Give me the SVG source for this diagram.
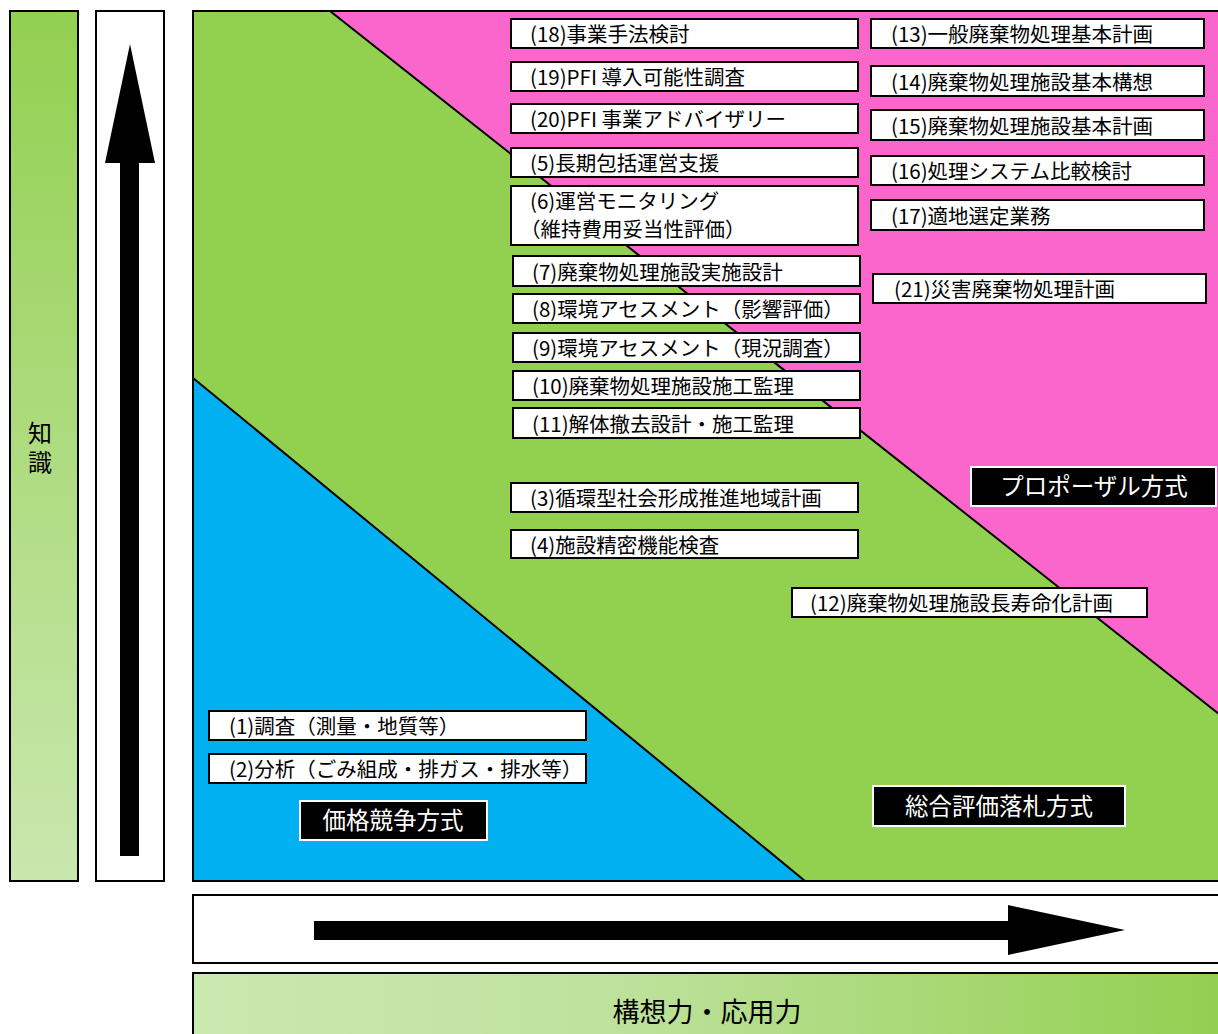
<svg xmlns="http://www.w3.org/2000/svg" width="1218" height="1034" viewBox="0 0 1218 1034">
<defs>
<linearGradient id="gv" x1="0" y1="0" x2="0" y2="1">
<stop offset="0" stop-color="#92D050"/>
<stop offset="1" stop-color="#C9E7AE"/>
</linearGradient>
<linearGradient id="gh" x1="0" y1="0" x2="1" y2="0">
<stop offset="0" stop-color="#CBE8B0"/>
<stop offset="0.4" stop-color="#BFE29E"/>
<stop offset="1" stop-color="#92D050"/>
</linearGradient>
<style>
.t{font-family:"Noto Sans CJK JP","Noto Sans CJK SC",sans-serif;font-size:20.5px;fill:#000}
.vert{font-size:24px;writing-mode:vertical-rl;letter-spacing:5px}
.axis{font-size:27px;text-anchor:middle}
.b{fill:#fff;stroke:#000;stroke-width:2}
.lb{fill:#000;stroke:#fff;stroke-width:2}
.lt{font-family:"Noto Sans CJK JP","Noto Sans CJK SC",sans-serif;font-size:23.5px;fill:#fff;text-anchor:middle}
</style>
</defs>
<rect width="1218" height="1034" fill="#fff"/>
<g id="axis-knowledge">
<rect x="10" y="11" width="68" height="870" fill="url(#gv)" stroke="#000" stroke-width="2"/>
<text class="t vert" x="40" y="421">知識</text>
</g>
<g id="axis-up">
<rect x="96" y="11" width="68" height="870" fill="#fff" stroke="#000" stroke-width="2"/>
<polygon points="130,44 155,163 139,163 139,856 120,856 120,163 105,163" fill="#000"/>
</g>
<g id="panel">
<rect x="193" y="11" width="1030" height="870" fill="#92D050" stroke="#000" stroke-width="2"/>
<polygon points="330,11 1219,11 1219,714" fill="#FA66CC" stroke="#000" stroke-width="2"/>
<polygon points="193,378 805,881 193,881" fill="#00B0F0" stroke="#000" stroke-width="2"/>
<rect x="193" y="11" width="1030" height="870" fill="none" stroke="#000" stroke-width="2"/>
</g>
<g id="axis-right">
<rect x="193" y="895" width="1030" height="68" fill="#fff" stroke="#000" stroke-width="2"/>
<polygon points="314,921 1008,921 1008,905 1125,930 1008,955 1008,940 314,940" fill="#000"/>
</g>
<g id="axis-concept">
<rect x="193" y="973" width="1030" height="70" fill="url(#gh)" stroke="#000" stroke-width="2"/>
<text class="t axis" x="707" y="1022">構想力・応用力</text>
</g>
<g id="n18"><rect class="b" x="511" y="19" width="347" height="29"/><text class="t" x="530" y="42">(18)事業手法検討</text></g>
<g id="n19"><rect class="b" x="511" y="62" width="347" height="29"/><text class="t" x="530" y="85">(19)PFI 導入可能性調査</text></g>
<g id="n20"><rect class="b" x="511" y="104" width="347" height="29"/><text class="t" x="530" y="127">(20)PFI 事業アドバイザリー</text></g>
<g id="n5"><rect class="b" x="511" y="148" width="347" height="29"/><text class="t" x="530" y="171">(5)長期包括運営支援</text></g>
<g id="n6"><rect class="b" x="511" y="186" width="347" height="59"/><text class="t" x="530" y="209">(6)運営モニタリング</text><text class="t" x="520" y="237">（維持費用妥当性評価）</text></g>
<g id="n7"><rect class="b" x="513" y="256" width="347" height="30"/><text class="t" x="532" y="280">(7)廃棄物処理施設実施設計</text></g>
<g id="n8"><rect class="b" x="513" y="294" width="347" height="29"/><text class="t" x="532" y="317">(8)環境アセスメント（影響評価）</text></g>
<g id="n9"><rect class="b" x="513" y="333" width="347" height="29"/><text class="t" x="532" y="356">(9)環境アセスメント（現況調査）</text></g>
<g id="n10"><rect class="b" x="513" y="371" width="347" height="29"/><text class="t" x="532" y="394">(10)廃棄物処理施設施工監理</text></g>
<g id="n11"><rect class="b" x="513" y="408" width="347" height="30"/><text class="t" x="532" y="432">(11)解体撤去設計・施工監理</text></g>
<g id="n3"><rect class="b" x="511" y="483" width="347" height="29"/><text class="t" x="530" y="506">(3)循環型社会形成推進地域計画</text></g>
<g id="n4"><rect class="b" x="511" y="530" width="347" height="28"/><text class="t" x="530" y="553">(4)施設精密機能検査</text></g>
<g id="n12"><rect class="b" x="792" y="588" width="355" height="29"/><text class="t" x="810" y="611">(12)廃棄物処理施設長寿命化計画</text></g>
<g id="n13"><rect class="b" x="871" y="19" width="333" height="29"/><text class="t" x="891" y="42">(13)一般廃棄物処理基本計画</text></g>
<g id="n14"><rect class="b" x="871" y="66" width="333" height="30"/><text class="t" x="891" y="90">(14)廃棄物処理施設基本構想</text></g>
<g id="n15"><rect class="b" x="871" y="110" width="333" height="30"/><text class="t" x="891" y="134">(15)廃棄物処理施設基本計画</text></g>
<g id="n16"><rect class="b" x="871" y="156" width="333" height="29"/><text class="t" x="891" y="179">(16)処理システム比較検討</text></g>
<g id="n17"><rect class="b" x="871" y="200" width="333" height="30"/><text class="t" x="891" y="224">(17)適地選定業務</text></g>
<g id="n21"><rect class="b" x="873" y="274" width="333" height="29"/><text class="t" x="894" y="297">(21)災害廃棄物処理計画</text></g>
<g id="n1"><rect class="b" x="209" y="711" width="377" height="29"/><text class="t" x="229" y="734">(1)調査（測量・地質等）</text></g>
<g id="n2"><rect class="b" x="209" y="754" width="377" height="29"/><text class="t" x="229" y="777">(2)分析（ごみ組成・排ガス・排水等）</text></g>
<g id="l-price"><rect class="lb" x="300" y="801" width="187" height="39"/><text class="lt" x="393" y="829">価格競争方式</text></g>
<g id="l-proposal"><rect class="lb" x="971" y="467" width="245" height="39"/><text class="lt" x="1094" y="495">プロポーザル方式</text></g>
<g id="l-total"><rect class="lb" x="873" y="786" width="252" height="40"/><text class="lt" x="999" y="815">総合評価落札方式</text></g>
<g id="connectors"></g>
</svg>
